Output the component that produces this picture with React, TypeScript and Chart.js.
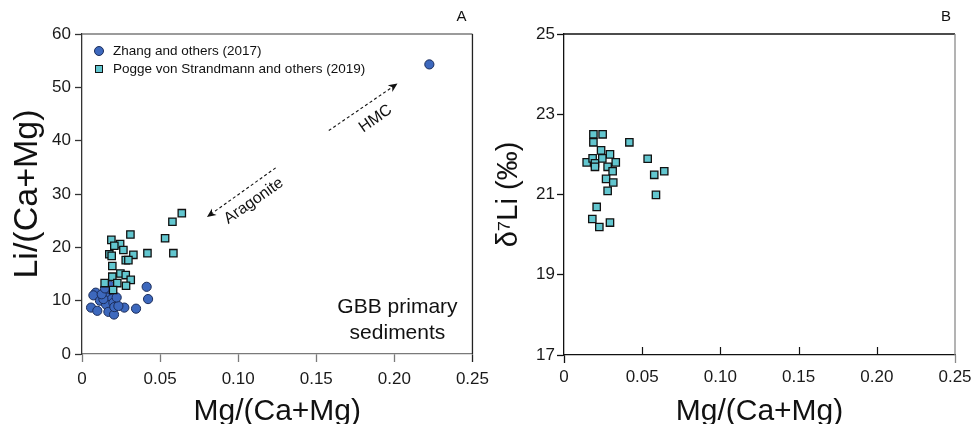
import React, { useEffect, useRef } from "react";
import { Chart, registerables } from "chart.js";

Chart.register(...registerables);

// ---------------- data ----------------
const zhangMg = [0.0414, 0.0423, 0.0088, 0.0073, 0.0169, 0.018, 0.0158, 0.019, 0.0115, 0.0154, 0.0201, 0.0058, 0.0098, 0.0169, 0.0205, 0.0207, 0.0271, 0.0346, 0.0233, 0.0137, 0.0222, 0.0126, 0.0147, 0.2224];
const zhangLi = [12.6, 10.3, 11.5, 11.0, 11.8, 12.8, 10.6, 10.3, 10.0, 9.3, 9.6, 8.7, 8.1, 7.9, 7.4, 8.8, 8.7, 8.5, 9.0, 10.3, 10.6, 11.2, 12.3, 54.3];

const poggeMg = [0.0639, 0.0579, 0.031, 0.0188, 0.0244, 0.0207, 0.0265, 0.0532, 0.0175, 0.019, 0.0329, 0.0419, 0.0585, 0.028, 0.0297, 0.0194, 0.0246, 0.028, 0.0194, 0.0312, 0.0226, 0.0145, 0.0282, 0.0199];
const poggeLi = [26.4, 24.8, 22.4, 21.4, 20.6, 20.3, 19.5, 21.7, 18.7, 18.4, 18.6, 18.9, 18.9, 17.6, 17.6, 16.5, 15.1, 14.8, 14.5, 13.9, 13.3, 13.3, 12.8, 12.0];

const poggeMgB = [0.0188, 0.0247, 0.0188, 0.0418, 0.0237, 0.0294, 0.0145, 0.0183, 0.0198, 0.0198, 0.0245, 0.0279, 0.0331, 0.0311, 0.0269, 0.0315, 0.0279, 0.0535, 0.0641, 0.0577, 0.0588, 0.0209, 0.0181, 0.0294, 0.0226];
const poggeD7Li = [22.5, 22.5, 22.3, 22.3, 22.1, 22.0, 21.8, 21.9, 21.78, 21.69, 21.9, 21.69, 21.8, 21.58, 21.39, 21.3, 21.09, 21.89, 21.58, 21.49, 20.99, 20.69, 20.39, 20.3, 20.19];

const mgTicks = [0, 0.05, 0.1, 0.15, 0.2, 0.25];
const mgTickLabels = ["0", "0.05", "0.10", "0.15", "0.20", "0.25"];
const liTicks = [0, 10, 20, 30, 40, 50, 60];
const d7Ticks = [17, 19, 21, 23, 25];

const legendLabels = ["Zhang and others (2017)", "Pogge von Strandmann and others (2019)"];

// annotation anchors (data coordinates)
const hmcArrow = [[0.158, 41.9], [0.202, 50.7]];
const aragArrow = [[0.124, 34.9], [0.080, 25.7]];
const hmcLabel = [0.188, 44.1];
const aragLabel = [0.110, 28.7];

// ---------------- styles ----------------
const FONT = '"Liberation Sans", Arial, Helvetica, sans-serif';
const BLUE = "#3d68bd";
const BLUE_EDGE = "#1c2d5a";
const CYAN = "#62c6cf";
const CYAN_EDGE = "#111111";

function drawArrow(ctx: CanvasRenderingContext2D, x0: number, y0: number, x1: number, y1: number) {
  const ang = Math.atan2(y1 - y0, x1 - x0);
  const head = 9;
  const hw = 4;
  const c = Math.cos(ang), s = Math.sin(ang);
  const bx = x1 - head * c, by = y1 - head * s;
  ctx.save();
  ctx.strokeStyle = "#111";
  ctx.lineWidth = 1.1;
  ctx.setLineDash([3, 2.5]);
  ctx.beginPath();
  ctx.moveTo(x0, y0);
  ctx.lineTo(x1 - head * 0.6 * c, y1 - head * 0.6 * s);
  ctx.stroke();
  ctx.setLineDash([]);
  ctx.fillStyle = "#111";
  ctx.beginPath();
  ctx.moveTo(x1, y1);
  ctx.lineTo(bx - hw * s, by + hw * c);
  ctx.lineTo(x1 - head * 0.7 * c, y1 - head * 0.7 * s);
  ctx.lineTo(bx + hw * s, by - hw * c);
  ctx.closePath();
  ctx.fill();
  ctx.restore();
}

function rotText(ctx: CanvasRenderingContext2D, text: string, x: number, y: number, deg: number, font: string) {
  ctx.save();
  ctx.translate(x, y);
  ctx.rotate((deg * Math.PI) / 180);
  ctx.font = font;
  ctx.fillStyle = "#111";
  ctx.textAlign = "center";
  ctx.textBaseline = "middle";
  ctx.fillText(text, 0, 0);
  ctx.restore();
}

const leftDecor = {
  id: "leftDecor",
  afterDraw(chart: any) {
    const { ctx, chartArea: a } = chart;
    const xs = chart.scales.x, ys = chart.scales.y;
    const px = (v: number) => xs.getPixelForValue(v);
    const py = (v: number) => ys.getPixelForValue(v);
    ctx.save();
    ctx.lineWidth = 1.3;
    ctx.strokeStyle = "#7a7a7a";
    ctx.beginPath();
    ctx.moveTo(a.left, a.top);
    ctx.lineTo(a.right, a.top);
    ctx.stroke();
    ctx.strokeStyle = "#222";
    ctx.beginPath();
    ctx.moveTo(a.right, a.top);
    ctx.lineTo(a.right, a.bottom);
    ctx.stroke();

    drawArrow(ctx, px(hmcArrow[0][0]), py(hmcArrow[0][1]), px(hmcArrow[1][0]), py(hmcArrow[1][1]));
    drawArrow(ctx, px(aragArrow[0][0]), py(aragArrow[0][1]), px(aragArrow[1][0]), py(aragArrow[1][1]));
    rotText(ctx, "HMC", px(hmcLabel[0]), py(hmcLabel[1]), -35, `16px ${FONT}`);
    rotText(ctx, "Aragonite", px(aragLabel[0]), py(aragLabel[1]), -35, `16px ${FONT}`);

    // legend
    const ds = chart.data.datasets;
    ctx.font = `13.5px ${FONT}`;
    ctx.textAlign = "left";
    ctx.textBaseline = "middle";
    const zd = ds[1];
    ctx.beginPath();
    ctx.arc(a.left + 17, 51, 4.5, 0, Math.PI * 2);
    ctx.fillStyle = zd.backgroundColor;
    ctx.fill();
    ctx.lineWidth = 1;
    ctx.strokeStyle = zd.borderColor;
    ctx.stroke();
    ctx.fillStyle = "#111";
    ctx.fillText(zd.label, a.left + 31, 51);
    const pd = ds[0];
    ctx.fillStyle = pd.backgroundColor;
    ctx.fillRect(a.left + 13.5, 65.5, 7, 7);
    ctx.strokeStyle = pd.borderColor;
    ctx.strokeRect(a.left + 13.5, 65.5, 7, 7);
    ctx.fillStyle = "#111";
    ctx.fillText(pd.label, a.left + 31, 69);

    ctx.font = `21px ${FONT}`;
    ctx.textAlign = "center";
    ctx.textBaseline = "alphabetic";
    ctx.fillText("GBB primary", a.right - 75, a.bottom - 41);
    ctx.fillText("sediments", a.right - 75, a.bottom - 15);

    ctx.font = `15px ${FONT}`;
    ctx.textBaseline = "middle";
    ctx.fillText("A", a.right - 11, 17);
    ctx.restore();
  },
};

const rightDecor = {
  id: "rightDecor",
  afterDraw(chart: any) {
    const { ctx, chartArea: a } = chart;
    const xs = chart.scales.x;
    ctx.save();
    ctx.lineWidth = 1.3;
    ctx.strokeStyle = "#111";
    ctx.beginPath();
    ctx.moveTo(a.left, a.top);
    ctx.lineTo(a.right, a.top);
    ctx.stroke();
    ctx.strokeStyle = "#8a8a8a";
    ctx.beginPath();
    ctx.moveTo(a.right, a.top);
    ctx.lineTo(a.right, a.bottom);
    ctx.stroke();
    ctx.strokeStyle = "#111";
    ctx.lineWidth = 1.2;
    xs.ticks.forEach((t: any) => {
      if (t.value === 0 || t.value === 0.25) return;
      const x = Math.round(xs.getPixelForValue(t.value)) + 0.5;
      ctx.beginPath();
      ctx.moveTo(x, a.bottom);
      ctx.lineTo(x, a.bottom - 8);
      ctx.stroke();
    });
    ctx.font = `15px ${FONT}`;
    ctx.fillStyle = "#111";
    ctx.textAlign = "center";
    ctx.textBaseline = "middle";
    ctx.fillText("B", a.right - 9, 17);
    ctx.restore();
  },
};

function mgScale(height: number, tickColor: any, borderColor: string, labelPad: number) {
  return {
    type: "linear",
    min: 0,
    max: 0.25,
    afterBuildTicks: (s: any) => {
      s.ticks = mgTicks.map((v) => ({ value: v }));
    },
    afterFit: (s: any) => {
      s.height = height;
    },
    ticks: {
      callback: (_v: any, i: number) => mgTickLabels[i],
      font: { family: FONT, size: 17 },
      color: "#1a1a1a",
      padding: labelPad,
      maxRotation: 0,
      autoSkip: false,
    },
    grid: { drawOnChartArea: false, drawTicks: true, tickLength: 8, tickColor, tickWidth: 1.3 },
    border: { color: borderColor, width: 1.3 },
    title: {
      display: true,
      text: "Mg/(Ca+Mg)",
      font: { family: FONT, size: 30, lineHeight: 0.8 },
      color: "#111",
      padding: 0,
    },
  };
}

function leftConfig(): any {
  return {
    type: "scatter",
    data: {
      datasets: [
        {
          label: legendLabels[1],
          data: poggeMg.map((x, i) => ({ x, y: poggeLi[i] })),
          pointStyle: "rect",
          pointRadius: 5.2,
          backgroundColor: CYAN,
          borderColor: CYAN_EDGE,
          borderWidth: 1.3,
          order: 0,
        },
        {
          label: legendLabels[0],
          data: zhangMg.map((x, i) => ({ x, y: zhangLi[i] })),
          pointStyle: "circle",
          pointRadius: 4.6,
          backgroundColor: BLUE,
          borderColor: BLUE_EDGE,
          borderWidth: 1,
          order: 1,
        },
      ],
    },
    options: {
      responsive: false,
      animation: false,
      events: [],
      layout: { padding: { top: 34, right: 0, left: 0, bottom: 0 } },
      plugins: { legend: { display: false }, tooltip: { enabled: false } },
      scales: {
        x: mgScale(70, (c: any) => (c.tick && c.tick.value === 0.25 ? "#222" : "#7a7a7a"), "#7a7a7a", 7),
        y: {
          type: "linear",
          min: 0,
          max: 60,
          afterBuildTicks: (s: any) => {
            s.ticks = liTicks.map((v) => ({ value: v }));
          },
          afterFit: (s: any) => {
            s.width = 82;
          },
          ticks: { font: { family: FONT, size: 17 }, color: "#1a1a1a", padding: 4 },
          grid: { drawOnChartArea: false, drawTicks: true, tickLength: 7, tickColor: "#333", tickWidth: 1.3 },
          border: { color: "#333", width: 1.3 },
          title: {
            display: true,
            text: "Li/(Ca+Mg)",
            font: { family: FONT, size: 34, lineHeight: 1 },
            color: "#111",
            padding: { top: 11, bottom: 0 },
          },
        },
      },
    },
    plugins: [leftDecor],
  };
}

function rightConfig(): any {
  return {
    type: "scatter",
    data: {
      datasets: [
        {
          label: legendLabels[1],
          data: poggeMgB.map((x, i) => ({ x, y: poggeD7Li[i] })),
          pointStyle: "rect",
          pointRadius: 5.2,
          backgroundColor: CYAN,
          borderColor: CYAN_EDGE,
          borderWidth: 1.3,
        },
      ],
    },
    options: {
      responsive: false,
      animation: false,
      events: [],
      layout: { padding: { top: 34, right: 21, left: 0, bottom: 0 } },
      plugins: { legend: { display: false }, tooltip: { enabled: false } },
      scales: {
        x: mgScale(
          69,
          (c: any) => (c.tick && c.tick.value === 0 ? "#111" : c.tick && c.tick.value === 0.25 ? "#8a8a8a" : "rgba(0,0,0,0)"),
          "#111",
          4
        ),
        y: {
          type: "linear",
          min: 17,
          max: 25,
          afterBuildTicks: (s: any) => {
            s.ticks = d7Ticks.map((v) => ({ value: v }));
          },
          afterFit: (s: any) => {
            s.width = 76;
          },
          ticks: { font: { family: FONT, size: 17 }, color: "#1a1a1a", padding: 2 },
          grid: { drawOnChartArea: false, drawTicks: true, tickLength: 7, tickColor: "#111", tickWidth: 1.3 },
          border: { color: "#111", width: 1.3 },
          title: {
            display: true,
            text: "δ⁷Li (‰)",
            font: { family: FONT, size: 29, lineHeight: 1 },
            color: "#111",
            padding: { top: 6.5, bottom: 0 },
          },
        },
      },
    },
    plugins: [rightDecor],
  };
}

export default function App() {
  const leftRef = useRef<HTMLCanvasElement>(null);
  const rightRef = useRef<HTMLCanvasElement>(null);
  useEffect(() => {
    const c1 = new Chart(leftRef.current as HTMLCanvasElement, leftConfig());
    const c2 = new Chart(rightRef.current as HTMLCanvasElement, rightConfig());
    return () => {
      c1.destroy();
      c2.destroy();
    };
  }, []);
  return (
    <div style={{ position: "absolute", left: 0, top: 0, width: 976, height: 424, background: "#fff" }}>
      <canvas
        ref={leftRef}
        width={496}
        height={424}
        style={{ position: "absolute", left: 0, top: 0, width: 496, height: 424 }}
      />
      <canvas
        ref={rightRef}
        width={488}
        height={424}
        style={{ position: "absolute", left: 488, top: 0, width: 488, height: 424 }}
      />
    </div>
  );
}
